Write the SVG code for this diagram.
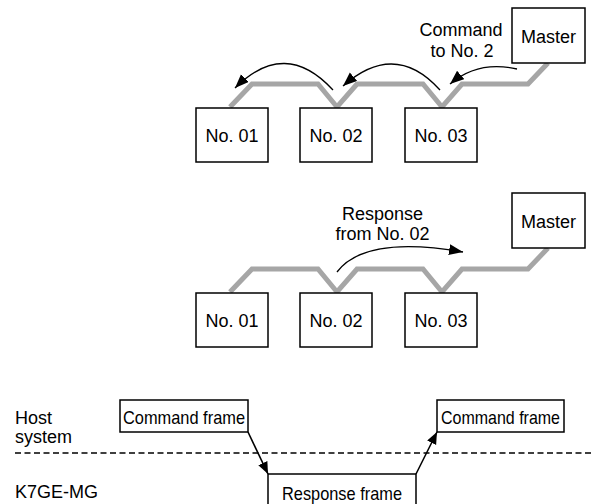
<svg xmlns="http://www.w3.org/2000/svg" width="591" height="504" viewBox="0 0 591 504">
<defs>
<style>
.box{fill:#fff;stroke:#000;stroke-width:1.5}
.t{font-family:"Liberation Sans",Arial,sans-serif;font-size:18px;fill:#000}
.c{font-family:"Liberation Sans",Arial,sans-serif;font-size:18.5px;fill:#000}
.bus{fill:none;stroke:#a6a6a6;stroke-width:5;stroke-linejoin:miter}
.arr{fill:none;stroke:#000;stroke-width:1.3}
.arr2{fill:none;stroke:#000;stroke-width:1.6}
</style>
<marker id="ah" markerUnits="userSpaceOnUse" markerWidth="15" markerHeight="12" refX="14" refY="5.5" orient="auto">
<path d="M0,0 L14,5.5 L0,11 Z" fill="#000"/>
</marker>
<marker id="ah2" markerUnits="userSpaceOnUse" markerWidth="13" markerHeight="11" refX="12" refY="5" orient="auto">
<path d="M0,0 L12,5 L0,10 Z" fill="#000"/>
</marker>
</defs>

<g id="connectors">
<path class="bus" d="M230,107 L252,84 L318,84 L337,107 L357,84 L423,84 L442,107 L462,84 L528,84 L548,63"/>
<path class="bus" d="M230,292 L252,269 L318,269 L337,292 L357,269 L423,269 L442,292 L462,269 L528,269 L548,248"/>
<path class="arr" d="M517,69 Q478,60 450,84" marker-end="url(#ah)"/>
<path class="arr" d="M440,90 Q395,40 343,86" marker-end="url(#ah)"/>
<path class="arr" d="M333,90 Q285,38 235,88" marker-end="url(#ah)"/>
<path class="arr" d="M337,272 Q365,235 463,252" marker-end="url(#ah)"/>
<line x1="15" y1="453" x2="591" y2="453" stroke="#000" stroke-width="1.5" stroke-dasharray="6,3.5"/>
<path class="arr2" d="M248,432 L268,474" marker-end="url(#ah2)"/>
<path class="arr2" d="M416,474 L437,432" marker-end="url(#ah2)"/>
</g>

<g id="master1"><rect class="box" x="512" y="8" width="73" height="55"/><text class="t" x="548.5" y="43" text-anchor="middle">Master</text></g>
<g id="n01a"><rect class="box" x="196" y="108" width="72" height="54"/><text class="t" x="232" y="142" text-anchor="middle">No. 01</text></g>
<g id="n02a"><rect class="box" x="300" y="108" width="72" height="54"/><text class="t" x="336" y="142" text-anchor="middle">No. 02</text></g>
<g id="n03a"><rect class="box" x="405" y="108" width="72" height="54"/><text class="t" x="441" y="142" text-anchor="middle">No. 03</text></g>
<g id="label1"><text class="t" x="461" y="36" text-anchor="middle">Command</text><text class="t" x="462" y="57" text-anchor="middle">to No. 2</text></g>

<g id="master2"><rect class="box" x="512" y="193" width="73" height="55"/><text class="t" x="548.5" y="228" text-anchor="middle">Master</text></g>
<g id="n01b"><rect class="box" x="196" y="293" width="72" height="54"/><text class="t" x="232" y="327" text-anchor="middle">No. 01</text></g>
<g id="n02b"><rect class="box" x="300" y="293" width="72" height="54"/><text class="t" x="336" y="327" text-anchor="middle">No. 02</text></g>
<g id="n03b"><rect class="box" x="405" y="293" width="72" height="54"/><text class="t" x="441" y="327" text-anchor="middle">No. 03</text></g>
<g id="label2"><text class="t" x="382.5" y="220" text-anchor="middle">Response</text><text class="t" x="382.5" y="240" text-anchor="middle">from No. 02</text></g>

<g id="host"><text class="t" x="15" y="424">Host</text><text class="t" x="15" y="443">system</text></g>
<g id="k7"><text class="t" x="15" y="498">K7GE-MG</text></g>
<g id="cmd1"><rect class="box" x="120" y="400" width="128" height="32"/><text class="c" x="123" y="424" textLength="122" lengthAdjust="spacingAndGlyphs">Command frame</text></g>
<g id="cmd2"><rect class="box" x="437" y="400" width="127" height="32"/><text class="c" x="441" y="424" textLength="119" lengthAdjust="spacingAndGlyphs">Command frame</text></g>
<g id="resp"><path class="box" d="M268,510 L268,474 L416,474 L416,510"/><text class="c" x="282" y="500" textLength="120" lengthAdjust="spacingAndGlyphs">Response frame</text></g>
</svg>
